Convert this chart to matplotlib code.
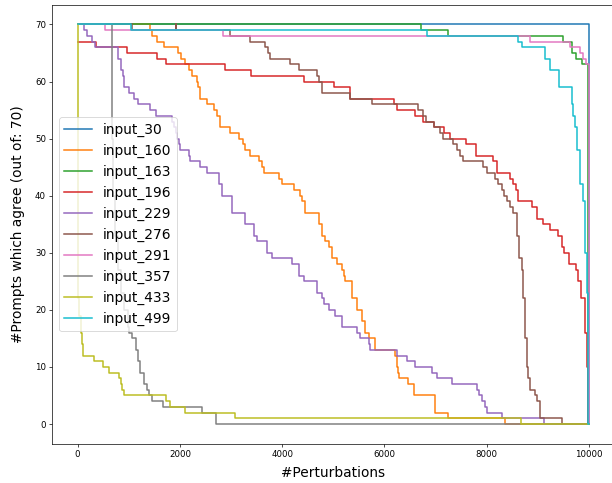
import matplotlib
matplotlib.use("Agg")
import matplotlib.pyplot as plt

# step curves: x = perturbation index where the count changes, y = new count
x_30 = [0, 10000]
y_30 = [70, 0]

x_160 = [0, 1420, 1460, 1555, 1685, 1960, 2025, 2110, 2175, 2240,
         2335, 2350, 2400, 2530, 2660, 2720, 2790, 2985, 3150, 3230,
         3280, 3380, 3540, 3600, 3640, 3930, 4000, 4225, 4355, 4390,
         4450, 4715, 4780, 4845, 4910, 4975, 5070, 5170, 5200, 5235,
         5365, 5460, 5560, 5625, 5690, 5820, 6210, 6240, 6260, 6280,
         6470, 6570, 6990, 7250, 8360, 10000]
y_160 = [70, 69, 68, 67, 66, 65, 64, 63, 62, 61,
         60, 59, 57, 56, 55, 54, 52, 51, 50, 49,
         48, 47, 46, 45, 44, 43, 42, 41, 40, 39,
         37, 35, 33, 32, 31, 29, 28, 27, 26, 25,
         22, 20, 18, 16, 15, 13, 12, 10, 9, 8,
         7, 5, 2, 1, 0, 0]

x_163 = [0, 6710, 7235, 9500, 9660, 9745, 9870, 9975, 10000]
y_163 = [70, 69, 68, 67, 65, 64, 63, 0, 0]

x_196 = [0, 370, 970, 1555, 1720, 2875, 3400, 4420, 5005, 5330,
         6190, 6240, 6600, 6760, 6960, 7155, 7285, 7600, 7790, 8120,
         8195, 8455, 8510, 8575, 8620, 8880, 8980, 9105, 9240, 9400,
         9465, 9515, 9615, 9745, 9790, 9850, 9920, 9955, 9985, 10000]
y_196 = [67, 66, 65, 64, 63, 62, 61, 60, 59, 57,
         56, 55, 54, 53, 52, 51, 50, 49, 47, 46,
         44, 43, 42, 41, 39, 38, 36, 35, 34, 33,
         31, 30, 28, 27, 25, 22, 16, 10, 0, 0]

x_229 = [0, 120, 175, 285, 350, 800, 840, 880, 900, 1005,
         1100, 1180, 1425, 1525, 1850, 1880, 1920, 1950, 1980, 2010,
         2175, 2205, 2400, 2535, 2760, 2825, 3020, 3280, 3445, 3510,
         3705, 3800, 4195, 4320, 4420, 4680, 4780, 4810, 4910, 5040,
         5170, 5460, 5525, 5690, 5720, 6245, 6440, 6600, 6925, 7025,
         7320, 7805, 7840, 7905, 7970, 8000, 8295, 9120, 10000]
y_229 = [70, 69, 68, 67, 66, 64, 62, 61, 59, 58,
         57, 56, 55, 54, 53, 52, 51, 50, 49, 48,
         47, 46, 45, 44, 42, 40, 37, 35, 33, 32,
         30, 29, 28, 26, 25, 23, 22, 21, 20, 19,
         17, 16, 15, 14, 13, 12, 11, 10, 9, 8,
         7, 6, 5, 4, 3, 2, 1, 0, 0]

x_276 = [0, 1070, 1915, 1930, 2990, 3365, 3670, 3720, 3770, 4150,
         4320, 4680, 4720, 4770, 5330, 5755, 6665, 6760, 6810, 6960,
         7090, 7145, 7350, 7415, 7480, 7545, 7935, 8000, 8165, 8230,
         8295, 8330, 8390, 8455, 8520, 8585, 8640, 8685, 8705, 8740,
         8780, 8815, 8850, 8945, 8980, 9045, 9465, 10000]
y_276 = [70, 69, 70, 69, 68, 67, 66, 65, 64, 63,
         62, 61, 60, 58, 57, 56, 55, 54, 53, 52,
         51, 50, 49, 48, 47, 46, 45, 44, 43, 42,
         41, 40, 39, 38, 37, 33, 29, 27, 22, 15,
         10, 8, 6, 5, 4, 1, 0, 0]

x_291 = [0, 545, 2850, 8845, 9630, 9820, 9890, 9935, 9995, 10000]
y_291 = [70, 69, 68, 67, 66, 65, 64, 63, 0, 0]

x_357 = [0, 670, 680, 700, 740, 790, 840, 900, 980, 1015, 1060,
         1135, 1180, 1230, 1300, 1365, 1390, 1460, 1680, 2435, 2715, 10000]
y_357 = [70, 60, 50, 40, 33, 27, 23, 20, 17, 16, 15,
         13, 11, 9, 7, 6, 5, 4, 3, 2, 0, 0]

x_433 = [0, 10, 30, 60, 80, 110, 320, 490, 610, 810,
         840, 870, 905, 1720, 1815, 2110, 3085, 8670, 10000]
y_433 = [70, 22, 19, 16, 14, 12, 11, 10, 9, 8,
         7, 6, 5, 4, 3, 2, 1, 0, 0]

x_499 = [0, 1035, 6830, 8620, 8685, 9140, 9240, 9420, 9660, 9690,
         9725, 9760, 9820, 9880, 9920, 9955, 9975, 9986, 10000]
y_499 = [70, 69, 68, 67, 66, 64, 62, 59, 56, 54,
         52, 48, 42, 39, 30, 23, 10, 0, 0]

series = [
    ("input_30", x_30, y_30),
    ("input_160", x_160, y_160),
    ("input_163", x_163, y_163),
    ("input_196", x_196, y_196),
    ("input_229", x_229, y_229),
    ("input_276", x_276, y_276),
    ("input_291", x_291, y_291),
    ("input_357", x_357, y_357),
    ("input_433", x_433, y_433),
    ("input_499", x_499, y_499),
]

dpi = 62
fig = plt.figure(figsize=(612 / dpi, 483 / dpi), dpi=dpi)
ax = fig.add_axes([52 / 612, 39 / 483, 562.6 / 612, 439.5 / 483])

for name, xs, ys in series:
    ax.step(xs, ys, where="post", label=name, linewidth=1.75)

ax.set_xlim(-500, 10500)
ax.set_ylim(-3.5, 73.5)
ax.tick_params(labelsize=10)
ax.set_xlabel("#Perturbations", fontsize=16, labelpad=8)
ax.set_ylabel("#Prompts which agree (out of: 70)", fontsize=16, labelpad=11)
ax.legend(loc="center left", fontsize=16)

fig.savefig("out.png", dpi=dpi)
